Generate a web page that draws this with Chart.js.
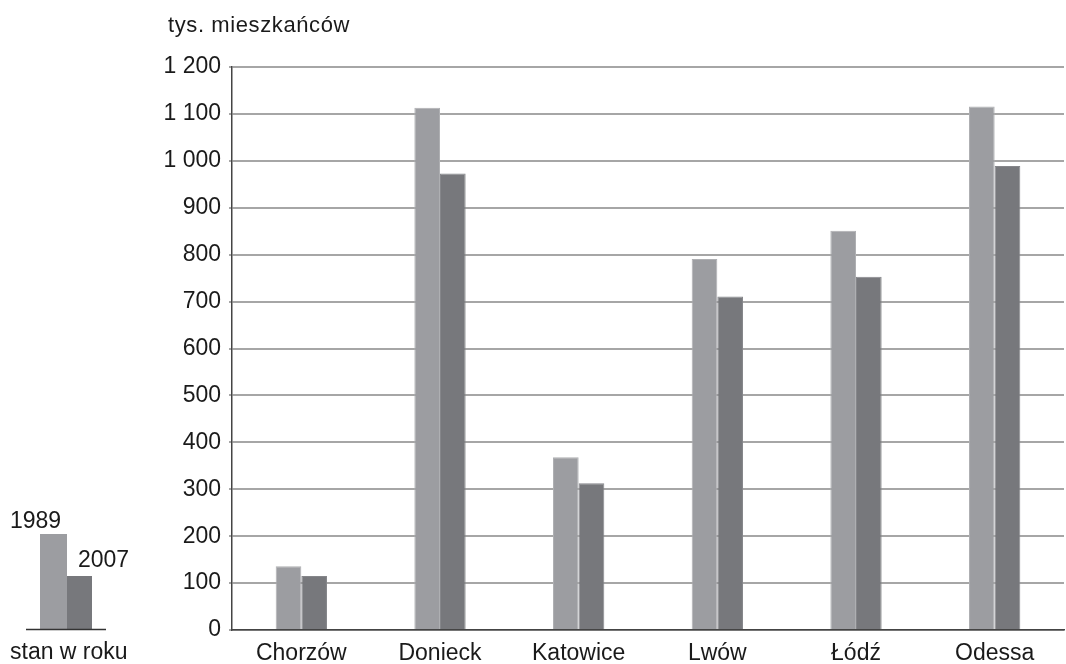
<!DOCTYPE html>
<html lang="pl">
<head>
<meta charset="utf-8">
<title>Liczba mieszkańców miast</title>
<script src="https://cdn.jsdelivr.net/npm/chart.js@4/dist/chart.umd.min.js"></script>
<style>
  html, body { margin: 0; padding: 0; background: #fff; }
  #wrap { width: 1066px; height: 664px; position: relative; }
</style>
</head>
<body>
<div id="wrap"><canvas id="c" width="1066" height="664"></canvas></div>
<script>
// Miasta i liczba mieszkańców (tys.)
const cities = ['Chorzów', 'Donieck', 'Katowice', 'Lwów', 'Łódź', 'Odessa'];
const pop1989 = [136, 1113, 368, 791, 851, 1116];
const pop2007 = [115, 973, 313, 711, 753, 989];
const years = ['1989', '2007'];
const unitLabel = 'tys. mieszkańców';
const legendCaption = 'stan w roku';

const FONT = "'Liberation Sans', Arial, sans-serif";
const fill1989 = '#9c9da1';
const fill2007 = '#77787c';
const edge1989 = '#aeafb2';
const edge2007 = '#85868a';
const textColor = '#1a1a1a';

function fmtThousands(v) {
  if (v >= 1000) {
    return Math.floor(v / 1000) + ' ' + String(v % 1000).padStart(3, '0');
  }
  return String(v);
}

// Jednostka nad osią oraz mała legenda w lewym dolnym rogu
const decorations = {
  id: 'decorations',
  afterDraw(chart) {
    const ctx = chart.ctx;
    ctx.save();
    ctx.fillStyle = textColor;
    ctx.textBaseline = 'alphabetic';
    ctx.textAlign = 'left';
    ctx.font = '22px ' + FONT;
    ctx.letterSpacing = '0.6px';
    ctx.fillText(unitLabel, 168, 32);

    // legenda: dwa słupki na linii bazowej
    const base = 629;
    ctx.fillStyle = fill1989;
    ctx.fillRect(40, 534, 27, base - 534);
    ctx.fillStyle = fill2007;
    ctx.fillRect(67, 576, 25, base - 576);
    ctx.strokeStyle = '#333';
    ctx.lineWidth = 1.5;
    ctx.beginPath();
    ctx.moveTo(26, base + 0.5);
    ctx.lineTo(106, base + 0.5);
    ctx.stroke();

    ctx.fillStyle = textColor;
    ctx.letterSpacing = '0px';
    ctx.font = '23px ' + FONT;
    ctx.fillText(years[0], 10, 528);
    ctx.fillText(years[1], 78, 567);
    ctx.fillText(legendCaption, 10, 659);
    ctx.restore();
  }
};

new Chart(document.getElementById('c'), {
  type: 'bar',
  data: {
    labels: cities,
    datasets: [
      { label: years[0], data: pop1989, backgroundColor: fill1989, borderColor: edge1989, borderWidth: 1 },
      { label: years[1], data: pop2007, backgroundColor: fill2007, borderColor: edge2007, borderWidth: 1 }
    ]
  },
  options: {
    responsive: false,
    animation: false,
    devicePixelRatio: 1,
    layout: { padding: { top: 67, right: 2, left: 0, bottom: 0 } },
    plugins: { legend: { display: false }, tooltip: { enabled: false } },
    datasets: { bar: { barPercentage: 1, categoryPercentage: 0.37 } },
    scales: {
      y: {
        min: 0, max: 1200,
        afterFit(scale) { scale.width = 232; },
        ticks: {
          stepSize: 100,
          color: textColor,
          font: { family: FONT, size: 23 },
          padding: 8,
          callback: (v) => fmtThousands(v)
        },
        grid: { color: '#a6a6a6', lineWidth: 2, tickLength: 3, drawTicks: true },
        border: { color: '#444', width: 1.5 }
      },
      x: {
        afterFit(scale) { scale.height = 34; },
        ticks: { color: textColor, font: { family: FONT, size: 23 }, padding: 2, maxRotation: 0 },
        grid: { display: false },
        border: { color: '#444', width: 1.5 }
      }
    }
  },
  plugins: [decorations]
});
</script>
</body>
</html>
